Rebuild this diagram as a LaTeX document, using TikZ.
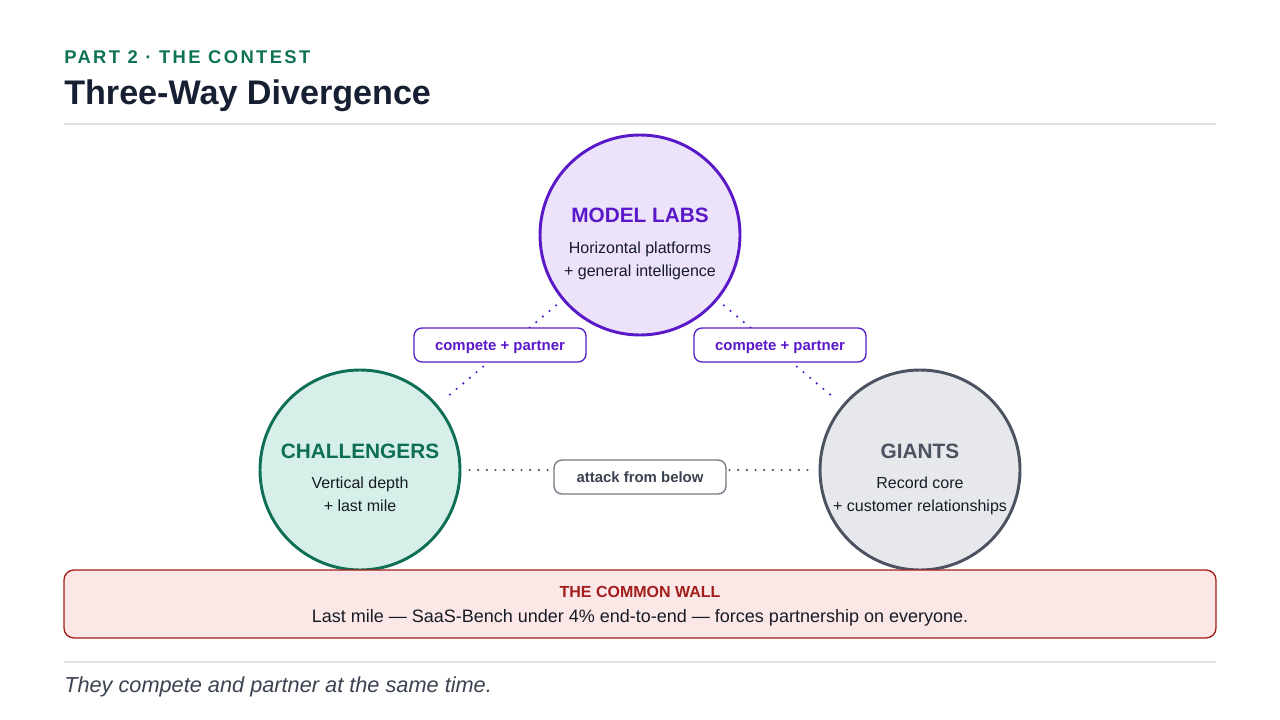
\documentclass[tikz,border=0pt]{standalone}
\usepackage{fontspec}
\setmainfont{Liberation Sans}
\usepackage{xcolor}
\usetikzlibrary{positioning}

\definecolor{partgreen}{HTML}{0E7356}
\definecolor{titleink}{HTML}{172033}
\definecolor{ruleclr}{HTML}{E0E2E6}
\definecolor{labline}{HTML}{5A18C9}
\definecolor{labfill}{HTML}{ECE2F9}
\definecolor{chline}{HTML}{0F6E56}
\definecolor{chfill}{HTML}{D6EFE8}
\definecolor{giline}{HTML}{4B5260}
\definecolor{gifill}{HTML}{E7E8EB}
\definecolor{bodyink}{HTML}{161B26}
\definecolor{pillgray}{HTML}{737884}
\definecolor{pillink}{HTML}{3A4150}
\definecolor{wallline}{HTML}{A31D1D}
\definecolor{wallfill}{HTML}{FBE8E6}
\definecolor{footink}{HTML}{3B4352}

\tikzset{
  actor/.style={circle, minimum size=150pt, inner sep=0pt, line width=2.2pt},
  actorname/.style={anchor=base, inner sep=0pt, font=\bfseries\fontsize{15.6}{18}\selectfont},
  actortext/.style={anchor=base, inner sep=0pt, text=bodyink, font=\fontsize{12}{14}\selectfont},
  pill/.style={rectangle, rounded corners=6pt, fill=white, line width=1pt,
    minimum width=129pt, minimum height=25.5pt, inner sep=0pt,
    text height=8pt, text depth=0pt,
    font=\bfseries\fontsize{11.2}{13}\selectfont},
  link/.style={line width=1.8pt, line cap=round, dash pattern=on 0pt off 6.5pt,
    shorten <=6pt, shorten >=6pt},
  hrule/.style={draw=ruleclr, line width=1.5pt}
}

\begin{document}
\begin{tikzpicture}[x=0.75pt, y=-0.75pt]

	\useasboundingbox[fill=white] (0,0) rectangle (1280,720);

	%% Header
	\node[anchor=base west, inner sep=0pt, text=partgreen,
	font=\bfseries\fontsize{13.8}{16}\selectfont\addfontfeatures{LetterSpace=13}]
	(part) at (64,64) {PART 2 · THE CONTEST};
	\node[anchor=base west, inner sep=0pt, text=titleink,
	font=\bfseries\fontsize{25.6}{30}\selectfont]
	(title) at (64,105) {Three-Way Divergence};
	\coordinate (ra) at (64,124);
	\coordinate (rb) at (1216,124);
	\draw[hrule] (ra) -- (rb);

	% Actors
	\node[actor, draw=labline, fill=labfill] (labs) at (640,235) {};
	\node[actor, draw=chline, fill=chfill] (chal) at (360,470) {};
	\node[actor, draw=giline, fill=gifill] (giants) at (920,470) {};

	% Links
	\draw[link, labline] (labs) -- (chal);
	\draw[link, labline] (labs) -- (giants);
	\draw[link, giline] (chal) -- (giants);

	\node[pill, draw=labline, text=labline] (cpl) at (500,345) {compete + partner};
	\node[pill, draw=labline, text=labline] (cpr) at (780,345) {compete + partner};
	\node[pill, draw=pillgray, text=pillink] (atk) at (640,477) {attack from below};

	%% Actor texts
	\node[actorname, text=labline] (labsname) at (640,223) {MODEL LABS};
	\node[actortext] (labsa) at (640,253) {Horizontal platforms};
	\node[actortext] (labsb) at (640,276) {+ general intelligence};

	\node[actorname, text=chline] (chalname) at (360,458) {CHALLENGERS};
	\node[actortext] (chala) at (360,488) {Vertical depth};
	\node[actortext] (chalb) at (360,511) {+ last mile};

	\node[actorname, text=giline] (giname) at (920,458) {GIANTS};
	\node[actortext] (gia) at (920,488) {Record core};
	\node[actortext] (gib) at (920,511) {+ customer relationships};

	% Common wall
	\filldraw[fill=wallfill, draw=wallline, line width=1pt, rounded corners=7.5pt]
	(64,570) rectangle (1216,638);
	\node[anchor=base, inner sep=0pt, text=wallline,
	font=\bfseries\fontsize{12}{14}\selectfont] (wallname) at (640,597) {THE COMMON WALL};
	\node[anchor=base, inner sep=0pt, text=bodyink,
	font=\fontsize{13.5}{16}\selectfont] (walltext) at (640,622)
	{Last mile — SaaS-Bench under 4\% end-to-end — forces partnership on everyone.};

	%% Footer
	\coordinate (fa) at (64,662);
	\coordinate (fb) at (1216,662);
	\draw[hrule] (fa) -- (fb);
	\node[anchor=base west, inner sep=0pt, text=footink,
	font=\itshape\fontsize{16.3}{19}\selectfont] (foot) at (64,692)
	{They compete and partner at the same time.};

\end{tikzpicture}
\end{document}
